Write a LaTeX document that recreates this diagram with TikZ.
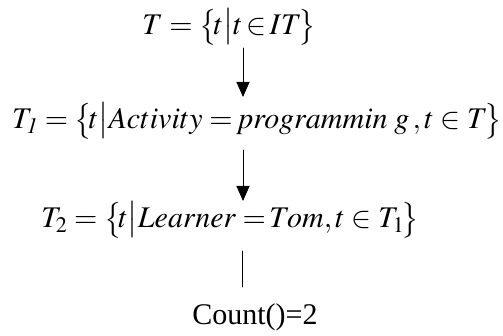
\documentclass[tikz,border=0pt]{standalone}
\usepackage{mathptmx}
\usepackage{fontspec}
\setmainfont{Liberation Serif}
\usetikzlibrary{arrows.meta}
\tikzset{
  formula/.style={inner sep=0pt, font=\fontsize{30}{36}\selectfont},
  flow/.style={line width=0.9pt, -{Triangle[width=13pt,length=15pt]}},
  plain/.style={line width=0.9pt}
}
\begin{document}
\begin{tikzpicture}[line cap=round,line join=round, x=1pt, y=-1pt]
\useasboundingbox (0,0) rectangle (503,336);
% formulas
\node[formula] (t0) at (229,27) {$T=\bigl\{\!t\bigr|t\!\in\!IT\!\bigr\}$};
\node[formula] (t1) at (257,121) {$T_{\mathit{1}}=\bigl\{\!t\bigr|Activity=\!programmin\;g\,,t\in T\!\bigr\}$};
\node[formula] (t2) at (230,220) {$T_2=\bigl\{\!t\bigr|Learner=\!Tom,t\in T_1\!\bigr\}$};
\node[formula] (cnt) at (255,317) {Count()=2};
% connectors
\coordinate (a0) at (243,48);
\coordinate (b0) at (243,97);
\coordinate (a1) at (243,150);
\coordinate (b1) at (243,201);
\coordinate (a2) at (242,251);
\coordinate (b2) at (242,287);
\draw[flow] (a0) -- (b0);
\draw[flow] (a1) -- (b1);
\draw[plain] (a2) -- (b2);
\end{tikzpicture}
\end{document}
